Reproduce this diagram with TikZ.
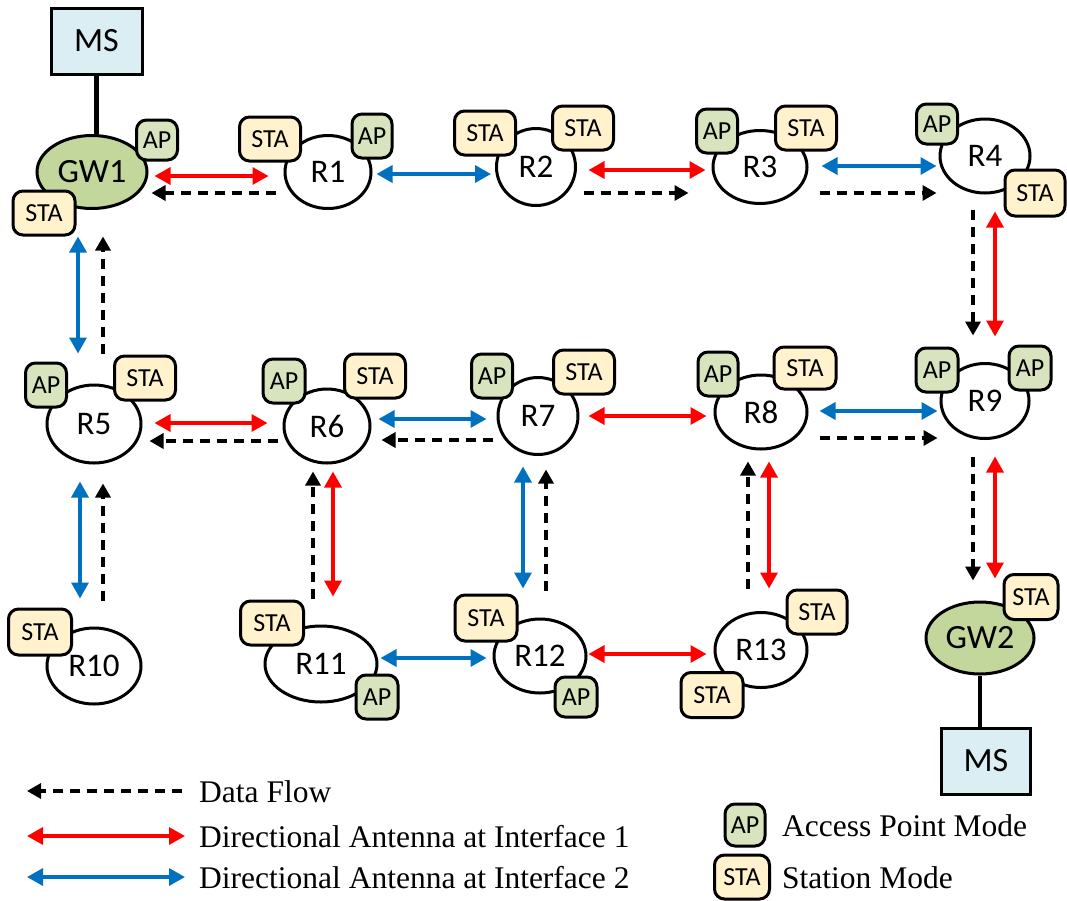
\documentclass[tikz,border=0pt]{standalone}
\usepackage{fontspec}
\setmainfont{Liberation Serif}
\newfontfamily\calfont{Carlito}
\usetikzlibrary{shapes.geometric,arrows.meta}
\definecolor{apfill}{HTML}{D7E4BD}
\definecolor{stafill}{HTML}{FFF2CC}
\definecolor{gwfill}{HTML}{C3D69B}
\definecolor{msfill}{HTML}{DBEEF4}
\definecolor{ifblue}{HTML}{0070C0}
\definecolor{ifred}{HTML}{FF0000}
\begin{document}
\begin{tikzpicture}[x=1pt,y=-1pt,
  router/.style={ellipse,draw,line width=3pt,fill=white,inner sep=0pt,
    font=\calfont\fontsize{33}{33}\selectfont},
  gateway/.style={router,fill=gwfill,font=\calfont\fontsize{34}{34}\selectfont},
  server/.style={rectangle,draw,line width=3pt,fill=msfill,inner sep=0pt,
    font=\calfont\fontsize{34}{34}\selectfont},
  badge/.style={rectangle,rounded corners=10pt,draw,line width=3pt,inner sep=0pt,
    minimum height=44pt,font=\calfont\fontsize{26}{26}\selectfont},
  apb/.style={badge,fill=apfill,minimum width=41pt},
  stab/.style={badge,fill=stafill,minimum width=61pt},
  if1/.style={ifred,line width=3.4pt,
    {Triangle[length=16pt,width=17pt]}-{Triangle[length=16pt,width=17pt]}},
  if2/.style={ifblue,line width=3.4pt,
    {Triangle[length=16pt,width=17pt]}-{Triangle[length=16pt,width=17pt]}},
  flow/.style={black,line width=3.3pt,dash pattern=on 10pt off 7pt,
    -{Triangle[length=14pt,width=15pt]}},
  wire/.style={line width=4.5pt},
  legtext/.style={anchor=west,inner sep=0pt,font=\fontsize{31.5}{31.5}\selectfont},
]
\useasboundingbox (0,0) rectangle (1067,900);

% management servers and gateways
\node[server,minimum width=91pt,minimum height=66pt] (MS1) at (96.5,41) {MS};
\node[gateway,minimum width=110pt,minimum height=73pt] (GW1) at (92,172) {GW1};
\node[gateway,minimum width=108pt,minimum height=72pt] (GW2) at (980,638) {GW2};
\node[server,minimum width=89pt,minimum height=66pt] (MS2) at (986,761) {MS};
\draw[wire] (MS1.south) -- (MS1.south |- GW1.north);
\draw[wire] (GW2.south) -- (GW2.south |- MS2.north);

% mesh routers
\node[router,minimum width=86pt,minimum height=73pt] (R1) at (328,172) {R1};
\node[router,minimum width=79pt,minimum height=77pt] (R2) at (536,167) {R2};
\node[router,minimum width=94pt,minimum height=73pt] (R3) at (760,167) {R3};
\node[router,minimum width=90pt,minimum height=74pt] (R4) at (985,156) {R4};
\node[router,minimum width=94pt,minimum height=78pt] (R5) at (94,424) {R5};
\node[router,minimum width=86pt,minimum height=74pt] (R6) at (327,426) {R6};
\node[router,minimum width=80pt,minimum height=77pt] (R7) at (538,416) {R7};
\node[router,minimum width=92pt,minimum height=74pt] (R8) at (761,412) {R8};
\node[router,minimum width=88pt,minimum height=75pt] (R9) at (985,401) {R9};
\node[router,minimum width=94pt,minimum height=76pt] (R10) at (94,666) {R10};
\node[router,minimum width=112pt,minimum height=76pt] (R11) at (321,664) {R11};
\node[router,minimum width=92pt,minimum height=74pt] (R12) at (540,656) {R12};
\node[router,minimum width=92pt,minimum height=75pt] (R13) at (761,650) {R13};

% interface modes
\node[apb,minimum height=40pt] (GW1ap) at (157,140) {AP};
\node[stab,minimum width=62pt] (GW1sta) at (44,213) {STA};
\node[stab] (R1sta) at (270,139) {STA};
\node[apb,minimum width=40pt] (R1ap) at (372,136) {AP};
\node[stab] (R2stal) at (485,133) {STA};
\node[stab] (R2star) at (583,128) {STA};
\node[apb] (R3ap) at (717,131) {AP};
\node[stab] (R3sta) at (806,128) {STA};
\node[apb,minimum height=40pt] (R4ap) at (937,124) {AP};
\node[stab,minimum width=60pt,minimum height=46pt] (R4sta) at (1035,193) {STA};
\node[apb] (R5ap) at (46,385) {AP};
\node[stab] (R5sta) at (145,378) {STA};
\node[apb,minimum width=42pt] (R6ap) at (284,381) {AP};
\node[stab] (R6sta) at (375,376) {STA};
\node[apb] (R7ap) at (492,376) {AP};
\node[stab] (R7sta) at (584,372) {STA};
\node[apb,minimum width=40pt] (R8ap) at (718,374) {AP};
\node[stab,minimum width=62pt,minimum height=42pt] (R8sta) at (805,368) {STA};
\node[apb,minimum width=42pt] (R9apl) at (937,370) {AP};
\node[apb,minimum width=42pt] (R9apr) at (1030,368) {AP};
\node[stab,minimum width=63pt,minimum height=46pt] (R10sta) at (40,632) {STA};
\node[stab,minimum width=63pt] (R11sta) at (272,623) {STA};
\node[apb,minimum width=42pt] (R11ap) at (377,697) {AP};
\node[stab,minimum width=62pt,minimum height=46pt] (R12sta) at (486,618) {STA};
\node[apb,minimum width=42pt,minimum height=40pt] (R12ap) at (576,697) {AP};
\node[stab,minimum width=60pt] (R13sta) at (817,612) {STA};
\node[stab,minimum width=62pt,minimum height=45pt] (R13stb) at (712,695) {STA};
\node[stab,minimum width=54pt,minimum height=45pt] (GW2sta) at (1031,597) {STA};

% links along the top row
\draw[if1] ([shift={(6,4)}]GW1.east) -- ([shift={(-15,4)}]R1.west);
\draw[flow] ([shift={(-8,21)}]R1.west) -- ([shift={(3,21)}]GW1.east);
\draw[if2] ([shift={(4,2)}]R1.east) -- ([shift={(-4,7)}]R2.west);
\draw[if1] ([shift={(11.5,3)}]R2.east) -- ([shift={(-6,3)}]R3.west);
\draw[flow] ([shift={(6.5,26)}]R2.east) -- ([shift={(-23,26)}]R3.west);
\draw[if2] ([shift={(13,-1)}]R3.east) -- ([shift={(-2,10)}]R4.west);
\draw[flow] ([shift={(11,26)}]R3.east) -- ([shift={(-2,37)}]R4.west);

% links between the top and middle rows
\draw[if2] ([shift={(-14,26.5)}]GW1.south) -- ([shift={(-16,-30)}]R5.north);
\draw[flow] ([shift={(9,-30)}]R5.north) -- ([shift={(11,26.5)}]GW1.south);
\draw[flow] ([shift={(-12,15)}]R4.south) -- ([shift={(-12,-26.5)}]R9.north);
\draw[if1] ([shift={(10,17)}]R4.south) -- ([shift={(10,-25.5)}]R9.north);

% links along the middle row
\draw[if1] ([shift={(12,-1)}]R5.east) -- ([shift={(-15,-3)}]R6.west);
\draw[flow] ([shift={(-5,15)}]R6.west) -- ([shift={(7,17)}]R5.east);
\draw[if2] ([shift={(7,-7)}]R6.east) -- ([shift={(-10,3)}]R7.west);
\draw[flow] ([shift={(-4,24)}]R7.west) -- ([shift={(10,14)}]R6.east);
\draw[if1] ([shift={(9,0)}]R7.east) -- ([shift={(-7,4)}]R8.west);
\draw[if2] ([shift={(11,-1)}]R8.east) -- ([shift={(-2,10)}]R9.west);
\draw[flow] ([shift={(11,26)}]R8.east) -- ([shift={(-2,37)}]R9.west);

% links between the middle and bottom rows
\draw[flow] ([shift={(-12,16.5)}]R9.south) -- ([shift={(-7,-20)}]GW2.north);
\draw[if1] ([shift={(10,16.5)}]R9.south) -- ([shift={(15,-22)}]GW2.north);
\draw[if2] ([shift={(-14,17)}]R5.south) -- ([shift={(-14,-28)}]R10.north);
\draw[flow] ([shift={(9,-26)}]R10.north) -- ([shift={(9,19)}]R5.south);
\draw[flow] ([shift={(-8,-26)}]R11.north) -- ([shift={(-14,7)}]R6.south);
\draw[if1] ([shift={(6,7)}]R6.south) -- ([shift={(12,-28)}]R11.north);
\draw[if2] ([shift={(-15,10.5)}]R7.south) -- ([shift={(-17,-29)}]R12.north);
\draw[flow] ([shift={(6,-27)}]R12.north) -- ([shift={(8,13.5)}]R7.south);
\draw[flow] ([shift={(-13,-22.5)}]R13.north) -- ([shift={(-13,11)}]R8.south);
\draw[if1] ([shift={(8,11)}]R8.south) -- ([shift={(8,-22.5)}]R13.north);

% links along the bottom row
\draw[if2] ([shift={(2,-6)}]R11.east) -- ([shift={(-6,2)}]R12.west);
\draw[if1] ([shift={(1,-2)}]R12.east) -- ([shift={(-7,4)}]R13.west);

% legend
\coordinate (lgA) at (182,791);
\coordinate (lgB) at (27,791);
\coordinate (lgC) at (27,836);
\coordinate (lgD) at (185,836);
\coordinate (lgE) at (27,877);
\coordinate (lgF) at (185,877);
\draw[flow] (lgA) -- (lgB);
\draw[if1] (lgC) -- (lgD);
\draw[if2] (lgE) -- (lgF);
\node[legtext] (lgflow) at (199,792) {Data Flow};
\node[legtext] (lgif1) at (199,837) {Directional Antenna at Interface 1};
\node[legtext] (lgif2) at (199,878) {Directional Antenna at Interface 2};
\node[apb,minimum width=40pt,minimum height=42pt] (lgap) at (745,825) {AP};
\node[stab,minimum width=55pt] (lgsta) at (742,877) {STA};
\node[legtext] (lgaptext) at (782,826) {Access Point Mode};
\node[legtext] (lgstatext) at (782,878) {Station Mode};
\end{tikzpicture}
\end{document}
